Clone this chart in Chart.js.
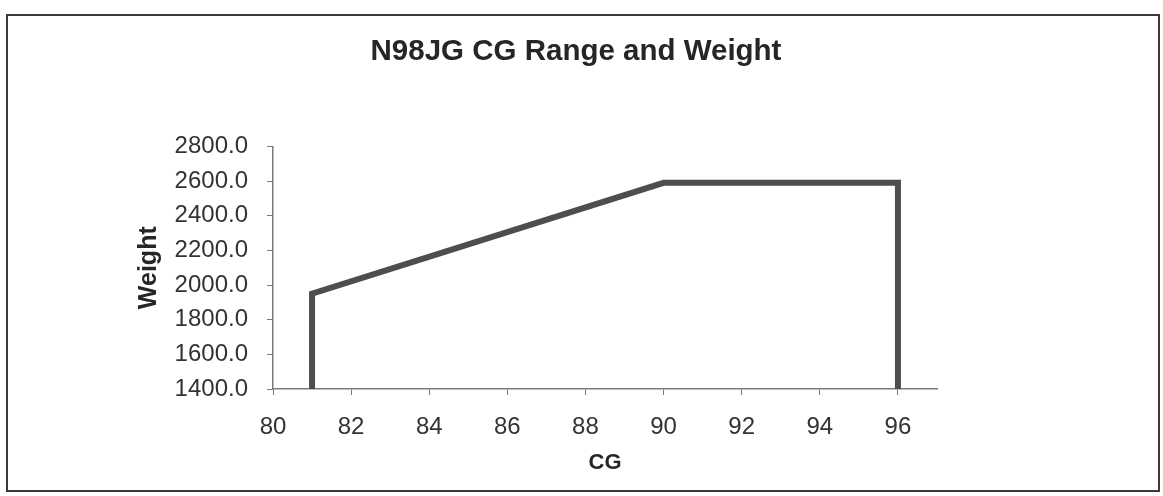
<!DOCTYPE html>
<html>
<head>
<meta charset="utf-8">
<script src="https://cdn.jsdelivr.net/npm/chart.js@4.4.1/dist/chart.umd.min.js"></script>
<style>
  html, body { margin: 0; padding: 0; background: #fff; }
  #wrap { position: relative; width: 1163px; height: 496px; overflow: hidden; }
  #frame { position: absolute; left: 6px; top: 14px; width: 1150px; height: 474px; border: 2px solid #3a3a3a; box-sizing: content-box; pointer-events: none; }
  canvas { position: absolute; left: 0; top: 0; }
</style>
</head>
<body>
<div id="wrap">
  <canvas id="cg" width="1163" height="496"></canvas>
  <div id="frame"></div>
</div>
<script>
// CG envelope corners (CG inches, weight lb)
const cgValues = [81, 81, 90, 96, 96];
const weightValues = [1400, 1950, 2590, 2590, 1400];
const xTicks = [80, 82, 84, 86, 88, 90, 92, 94, 96];
const yTicks = [1400, 1600, 1800, 2000, 2200, 2400, 2600, 2800];

const FONT = "'Liberation Sans', Arial, sans-serif";
const INK = '#333';
const AXISLINE = '#7a7a7a';

const points = cgValues.map((x, i) => ({ x, y: weightValues[i] }));

new Chart(document.getElementById('cg'), {
  type: 'scatter',
  data: {
    datasets: [{
      data: points,
      showLine: true,
      borderColor: '#4e4e4e',
      backgroundColor: '#4e4e4e',
      borderWidth: 6,
      pointRadius: 0,
      tension: 0,
    }],
  },
  options: {
    responsive: false,
    animation: false,
    // right side: empty spacer axis keeps the plot narrow but lets the title centre on the frame
    layout: { padding: { top: 34, left: 134, right: 145, bottom: 20 } },
    plugins: {
      legend: { display: false },
      tooltip: { enabled: false },
      title: {
        display: true,
        text: 'N98JG CG Range and Weight',
        color: '#262626',
        font: { family: FONT, size: 29.5, weight: 'bold', lineHeight: 1.2 },
        padding: { top: 0, bottom: 77 },
      },
    },
    scales: {
      x: {
        type: 'linear',
        min: 80, max: 97,
        afterBuildTicks: (s) => { s.ticks = xTicks.map((v) => ({ value: v })); },
        afterFit: (s) => { s.height = 87; },
        ticks: { color: INK, padding: 18, font: { family: FONT, size: 24 }, maxRotation: 0 },
        grid: { drawOnChartArea: false, drawTicks: true, tickLength: 6, color: AXISLINE },
        border: { color: AXISLINE, width: 1.5 },
        title: { display: true, text: 'CG', color: '#262626', padding: 0, font: { family: FONT, size: 22, weight: 'bold', lineHeight: 1.2 } },
      },
      y: {
        min: 1400, max: 2800,
        afterBuildTicks: (s) => { s.ticks = yTicks.map((v) => ({ value: v })); },
        afterFit: (s) => { s.width = 139; },
        ticks: { color: INK, padding: 19, font: { family: FONT, size: 24 }, callback: (v) => Number(v).toFixed(1) },
        grid: { drawOnChartArea: false, drawTicks: true, tickLength: 6, color: AXISLINE },
        border: { color: AXISLINE, width: 1.5 },
        title: { display: true, text: 'Weight', color: '#262626', padding: 0, font: { family: FONT, size: 25, weight: 'bold', lineHeight: 1.2 } },
      },
      spacer: {
        position: 'right',
        min: 1400, max: 2800,
        afterFit: (s) => { s.width = 81; },
        ticks: { display: false },
        grid: { display: false },
        border: { display: false },
      },
    },
  },
});
</script>
</body>
</html>
